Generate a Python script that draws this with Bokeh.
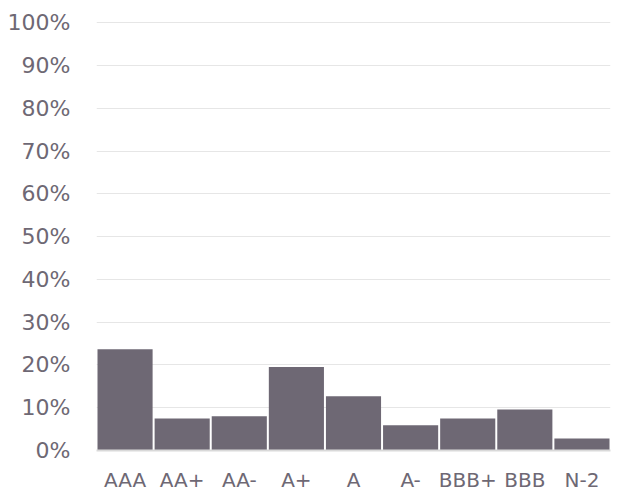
from bokeh.plotting import figure
from bokeh.models import ColumnDataSource, NumeralTickFormatter, FixedTicker
from bokeh.embed import file_html
from bokeh.resources import INLINE

categories = ["AAA", "AA+", "AA-", "A+", "A", "A-", "BBB+", "BBB", "N-2"]
shares = [0.237, 0.075, 0.080, 0.195, 0.127, 0.059, 0.075, 0.096, 0.028]
y_ticks = [0.0, 0.1, 0.2, 0.3, 0.4, 0.5, 0.6, 0.7, 0.8, 0.9, 1.0]

src = ColumnDataSource(dict(cat=categories, val=shares))

p = figure(x_range=categories, y_range=(0, 1.003),
           frame_width=514, frame_height=429,
           output_backend="svg", toolbar_location=None,
           min_border_left=96, min_border_right=15, min_border_top=21, min_border_bottom=10)
p.outline_line_color = None
p.x_range.range_padding = 0

p.vbar(x="cat", top="val", width=0.965, source=src, color="#6e6874", line_color=None)

p.yaxis.ticker = FixedTicker(ticks=y_ticks)
p.yaxis.formatter = NumeralTickFormatter(format="0%")
p.yaxis.axis_line_color = None
p.yaxis.major_tick_line_color = None
p.yaxis.minor_tick_line_color = None
p.yaxis.major_label_standoff = 20
p.yaxis.major_label_text_font = "DejaVu Sans"
p.yaxis.major_label_text_font_size = "22px"
p.yaxis.major_label_text_color = "#6e6874"

p.xaxis.axis_line_color = "#d9d9d9"
p.xaxis.axis_line_width = 2
p.xaxis.major_tick_line_color = None
p.xaxis.minor_tick_line_color = None
p.xaxis.major_label_standoff = 11
p.xaxis.major_label_text_font = "DejaVu Sans"
p.xaxis.major_label_text_font_size = "20px"
p.xaxis.major_label_text_color = "#6e6874"

p.xgrid.grid_line_color = None
p.ygrid.grid_line_color = "#e6e6e6"
p.ygrid.grid_line_width = 1

open("out.html", "w").write(file_html(p, INLINE))
